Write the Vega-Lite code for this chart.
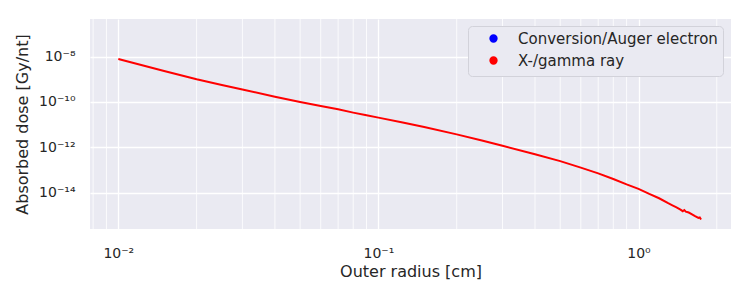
{
  "$schema": "https://vega.github.io/schema/vega-lite/v6.json",
  "width": 641,
  "height": 210,
  "autosize": {"type": "none"},
  "padding": {"left": 90, "top": 19, "right": 19, "bottom": 71},
  "background": "white",
  "config": {
    "view": {"fill": "#EAEAF2", "stroke": null},
    "font": "DejaVu Sans",
    "axis": {
      "domain": false,
      "ticks": false,
      "gridColor": "white",
      "gridWidth": 1.3,
      "gridOpacity": 1,
      "labelFont": "DejaVu Sans",
      "labelFontSize": 14,
      "labelColor": "#262626",
      "titleFont": "DejaVu Sans",
      "titleFontSize": 16,
      "titleFontWeight": "normal",
      "titleColor": "#262626"
    }
  },
  "datasets": {
    "minor": [
      {"r": 0.008}, {"r": 0.009},
      {"r": 0.02}, {"r": 0.03}, {"r": 0.04}, {"r": 0.05}, {"r": 0.06}, {"r": 0.07}, {"r": 0.08}, {"r": 0.09},
      {"r": 0.2}, {"r": 0.3}, {"r": 0.4}, {"r": 0.5}, {"r": 0.6}, {"r": 0.7}, {"r": 0.8}, {"r": 0.9},
      {"r": 2}
    ],
    "dose": [
      {"r": 0.01, "dose": 7.94e-9, "series": "X-/gamma ray"},
      {"r": 0.015, "dose": 2.34e-9, "series": "X-/gamma ray"},
      {"r": 0.02, "dose": 1.0e-9, "series": "X-/gamma ray"},
      {"r": 0.025, "dose": 5.62e-10, "series": "X-/gamma ray"},
      {"r": 0.03, "dose": 3.55e-10, "series": "X-/gamma ray"},
      {"r": 0.04, "dose": 1.72e-10, "series": "X-/gamma ray"},
      {"r": 0.05, "dose": 1.0e-10, "series": "X-/gamma ray"},
      {"r": 0.06, "dose": 6.61e-11, "series": "X-/gamma ray"},
      {"r": 0.07, "dose": 4.79e-11, "series": "X-/gamma ray"},
      {"r": 0.08, "dose": 3.39e-11, "series": "X-/gamma ray"},
      {"r": 0.09, "dose": 2.57e-11, "series": "X-/gamma ray"},
      {"r": 0.1, "dose": 2.04e-11, "series": "X-/gamma ray"},
      {"r": 0.124, "dose": 1.23e-11, "series": "X-/gamma ray"},
      {"r": 0.15, "dose": 7.94e-12, "series": "X-/gamma ray"},
      {"r": 0.2, "dose": 3.72e-12, "series": "X-/gamma ray"},
      {"r": 0.25, "dose": 2.0e-12, "series": "X-/gamma ray"},
      {"r": 0.3, "dose": 1.17e-12, "series": "X-/gamma ray"},
      {"r": 0.4, "dose": 4.90e-13, "series": "X-/gamma ray"},
      {"r": 0.5, "dose": 2.45e-13, "series": "X-/gamma ray"},
      {"r": 0.6, "dose": 1.26e-13, "series": "X-/gamma ray"},
      {"r": 0.7, "dose": 7.08e-14, "series": "X-/gamma ray"},
      {"r": 0.8, "dose": 3.98e-14, "series": "X-/gamma ray"},
      {"r": 0.9, "dose": 2.29e-14, "series": "X-/gamma ray"},
      {"r": 1.0, "dose": 1.45e-14, "series": "X-/gamma ray"},
      {"r": 1.1, "dose": 8.71e-15, "series": "X-/gamma ray"},
      {"r": 1.2, "dose": 5.62e-15, "series": "X-/gamma ray"},
      {"r": 1.3, "dose": 3.39e-15, "series": "X-/gamma ray"},
      {"r": 1.35, "dose": 2.75e-15, "series": "X-/gamma ray"},
      {"r": 1.4, "dose": 2.24e-15, "series": "X-/gamma ray"},
      {"r": 1.45, "dose": 1.78e-15, "series": "X-/gamma ray"},
      {"r": 1.48, "dose": 1.51e-15, "series": "X-/gamma ray"},
      {"r": 1.5, "dose": 1.70e-15, "series": "X-/gamma ray"},
      {"r": 1.52, "dose": 1.45e-15, "series": "X-/gamma ray"},
      {"r": 1.56, "dose": 1.32e-15, "series": "X-/gamma ray"},
      {"r": 1.6, "dose": 1.12e-15, "series": "X-/gamma ray"},
      {"r": 1.65, "dose": 9.12e-16, "series": "X-/gamma ray"},
      {"r": 1.7, "dose": 7.59e-16, "series": "X-/gamma ray"},
      {"r": 1.72, "dose": 7.94e-16, "series": "X-/gamma ray"},
      {"r": 1.74, "dose": 6.46e-16, "series": "X-/gamma ray"}
    ]
  },
  "layer": [
    {
      "data": {"name": "minor"},
      "mark": {"type": "rule", "color": "white", "strokeWidth": 0.8},
      "encoding": {
        "x": {
          "field": "r", "type": "quantitative",
          "scale": {"type": "log", "domain": [0.007782, 2.268], "nice": false},
          "axis": {
            "title": "Outer radius [cm]",
            "values": [0.01, 0.1, 1],
            "labelPadding": 17,
            "titlePadding": 3,
            "labelExpr": "datum.value < 0.05 ? '10⁻²' : datum.value < 0.5 ? '10⁻¹' : '10⁰'"
          }
        }
      }
    },
    {
      "data": {"name": "dose"},
      "mark": {"type": "line", "strokeWidth": 2, "clip": true},
      "encoding": {
        "x": {
          "field": "r", "type": "quantitative",
          "scale": {"type": "log", "domain": [0.007782, 2.268], "nice": false},
          "axis": {
            "title": "Outer radius [cm]",
            "values": [0.01, 0.1, 1],
            "labelPadding": 17,
            "titlePadding": 3,
            "labelExpr": "datum.value < 0.05 ? '10⁻²' : datum.value < 0.5 ? '10⁻¹' : '10⁰'"
          }
        },
        "y": {
          "field": "dose", "type": "quantitative",
          "scale": {"type": "log", "domain": [2.47e-16, 4.61e-7], "nice": false},
          "axis": {
            "title": "Absorbed dose [Gy/nt]",
            "values": [1e-8, 1e-10, 1e-12, 1e-14],
            "labelPadding": 15,
            "titlePadding": 8,
            "labelExpr": "datum.value < 1e-13 ? '10⁻¹⁴' : datum.value < 1e-11 ? '10⁻¹²' : datum.value < 1e-9 ? '10⁻¹⁰' : '10⁻⁸'"
          }
        },
        "color": {
          "field": "series", "type": "nominal",
          "scale": {"domain": ["Conversion/Auger electron", "X-/gamma ray"], "range": ["blue", "red"]},
          "legend": {
            "title": null,
            "orient": "none",
            "legendX": 378,
            "legendY": 7,
            "symbolType": "circle",
            "symbolSize": 17,
            "symbolStrokeWidth": 4.2,
            "symbolOpacity": 1,
            "symbolOffset": 13,
            "labelOffset": 17,
            "labelLimit": 400,
            "labelFont": "DejaVu Sans",
            "labelFontSize": 15,
            "labelColor": "#262626",
            "rowPadding": 1,
            "padding": 5,
            "fillColor": "#EAEAF2",
            "strokeColor": "#d2d2da",
            "cornerRadius": 4
          }
        }
      }
    }
  ]
}
